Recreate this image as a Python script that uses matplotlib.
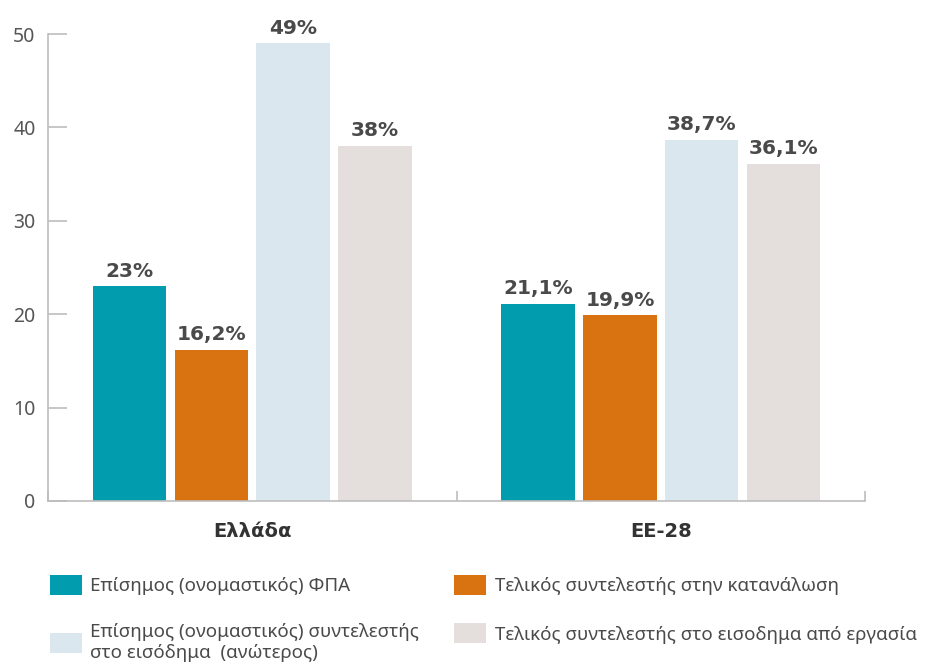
import matplotlib
matplotlib.use("Agg")
import matplotlib.pyplot as plt
import numpy as np

# data
groups = ["Ελλάδα", "ΕΕ-28"]
series_names = [
    "Επίσημος (ονομαστικός) ΦΠΑ",
    "Τελικός συντελεστής στην κατανάλωση",
    "Επίσημος (ονομαστικός) συντελεστής\nστο εισόδημα  (ανώτερος)",
    "Τελικός συντελεστής στο εισοδημα από εργασία",
]
values = [
    [23.0, 21.1],
    [16.2, 19.9],
    [49.0, 38.7],
    [38.0, 36.1],
]
value_labels = [
    ["23%", "21,1%"],
    ["16,2%", "19,9%"],
    ["49%", "38,7%"],
    ["38%", "36,1%"],
]
colors = ["#019daf", "#d97311", "#dbe7ee", "#e4dfdc"]

plt.rcParams['font.family'] = ['Noto Sans', 'DejaVu Sans']
text_color = "#4a4a4a"
grey = "#bdbdbd"
bold_font = ['DejaVu Sans']

fig = plt.figure(figsize=(9.33, 6.71), dpi=100)
ax = fig.add_axes([48 / 933, 1 - 501 / 671, (865 - 48) / 933, (501 - 34) / 671])

x = np.arange(len(groups))
width = 0.18
offsets = [-0.3, -0.1, 0.1, 0.3]
handles = []
for i in range(len(series_names)):
    bars = ax.bar(x + offsets[i], values[i], width, color=colors[i], label=series_names[i])
    handles.append(bars)
    for b, lab in zip(bars, value_labels[i]):
        ax.text(b.get_x() + b.get_width() / 2, b.get_height() + 0.6, lab,
                ha='center', va='bottom', fontsize=14.5, fontweight='bold',
                family=bold_font, color=text_color)

ax.set_xlim(-0.5, 1.5)
ax.set_ylim(0, 50)
ax.set_yticks([0, 10, 20, 30, 40, 50])
ax.set_xticks(x)
ax.set_xticklabels(groups, fontsize=14, fontweight='bold', family=bold_font, color="#333333")
ax.set_xticks([-0.5, 0.5, 1.5], minor=True)

for s in ['top', 'right']:
    ax.spines[s].set_visible(False)
for s in ['left', 'bottom']:
    ax.spines[s].set_color(grey)
    ax.spines[s].set_linewidth(1.2)

ax.tick_params(axis='y', direction='in', length=14, color=grey, width=1.2,
               labelsize=14, labelcolor="#555555", pad=9)
ax.tick_params(axis='x', which='major', length=0, pad=15)
ax.tick_params(axis='x', which='minor', direction='in', length=7, color=grey, width=1.2)

order = [0, 2, 1, 3]
fig.legend([handles[k] for k in order], [series_names[k] for k in order],
           ncol=2, loc='upper left', bbox_to_anchor=(0.0397, 0.163),
           frameon=False, fontsize=13.5, labelcolor=text_color,
           handlelength=1.7, handleheight=1.28, handletextpad=0.45,
           columnspacing=1.87, labelspacing=1.5, borderpad=0.2)

plt.savefig("out.png", dpi=100)
